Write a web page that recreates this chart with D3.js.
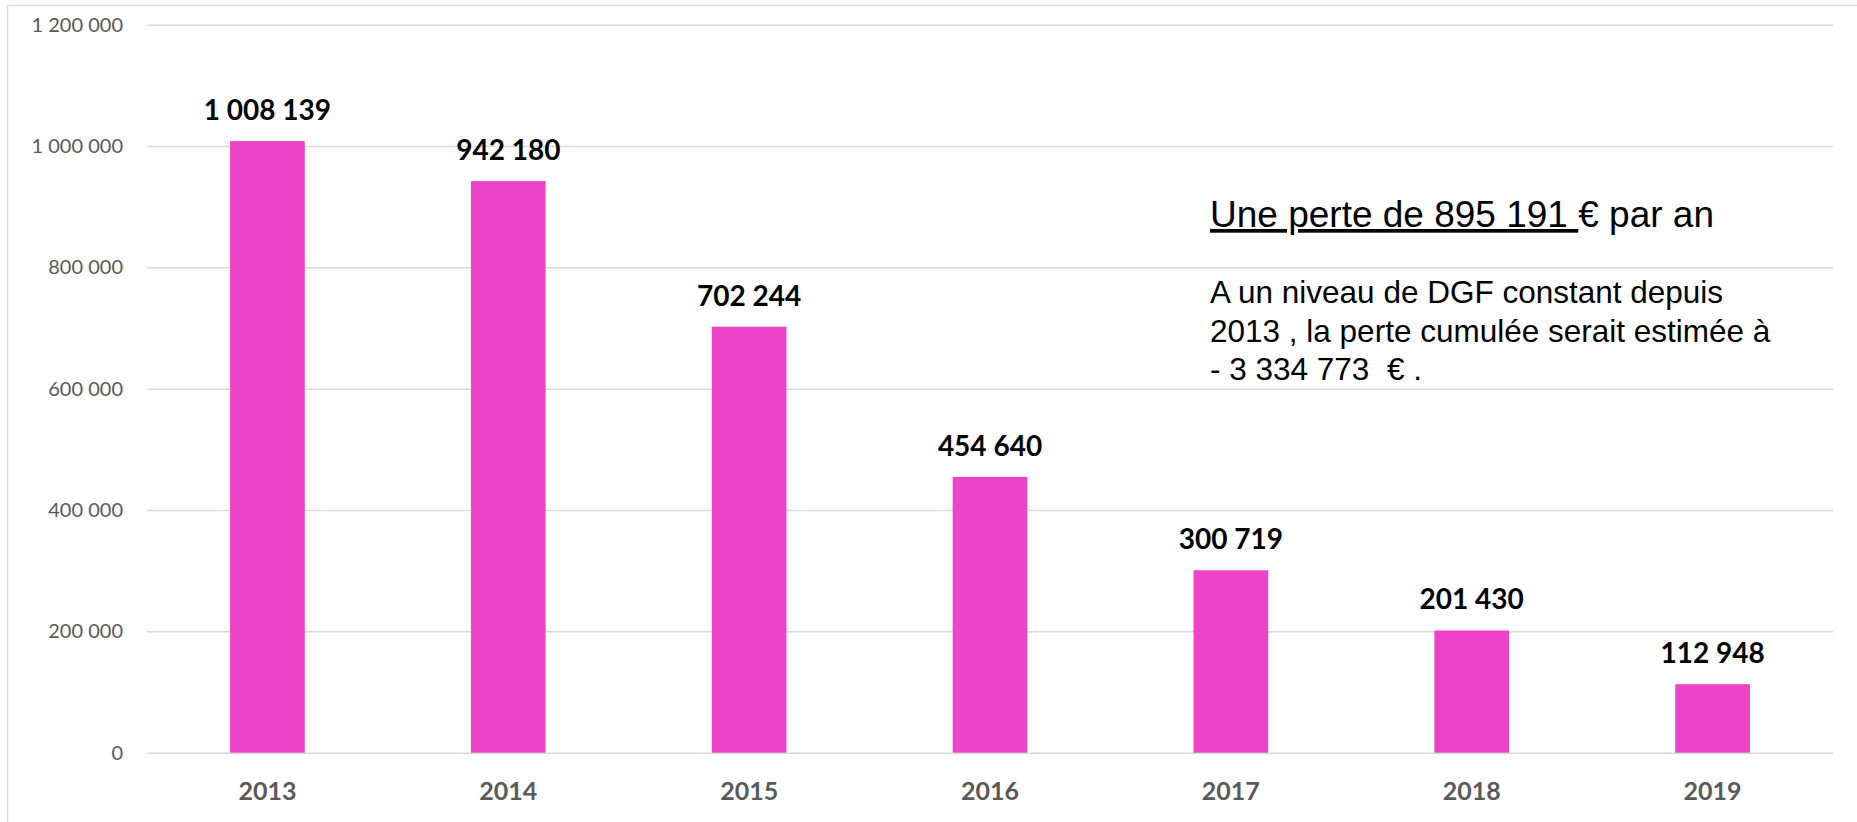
<!DOCTYPE html>
<html>
<head>
<meta charset="utf-8">
<script src="https://cdn.jsdelivr.net/npm/d3@7"></script>
<style>
    body { margin: 0; background: #fff; }
    svg { display: block; }
    .tick line { stroke: #d9d9d9; stroke-width: 1.5; }
    .axis .domain { display: none; }
</style>
</head>
<body>
<svg width="1857" height="822"></svg>
<script>
// DATA
var years = ["2013", "2014", "2015", "2016", "2017", "2018", "2019"];
var dgf = [1008139, 942180, 702244, 454640, 300719, 201430, 112948];
var yTicks = [0, 200000, 400000, 600000, 800000, 1000000, 1200000];
var titleUnderlined = "Une perte de 895 191 ";
var titleRest = "€ par an";
var noteLines = [
    "A un niveau de DGF constant depuis",
    "2013 , la perte cumulée serait estimée à",
    "- 3 334 773  € ."
];

var svg = d3.select("svg");
var width = +svg.attr("width");
var height = +svg.attr("height");

var plotLeft = 147, plotRight = 1833, plotTop = 24.7, plotBottom = 752.7;

var fr = d3.formatLocale({decimal: ",", thousands: " ", grouping: [3], currency: ["", " €"]});
var numberFormat = fr.format(",d");

// frame
svg.append("rect")
    .attr("x", 7.5)
    .attr("y", 5.5)
    .attr("width", width + 10)
    .attr("height", height + 10)
    .attr("fill", "none")
    .attr("stroke", "#d9d9d9")
    .attr("stroke-width", 1.5);

var x = d3.scaleBand()
    .domain(years)
    .range([plotLeft, plotRight])
    .paddingInner(0.69)
    .paddingOuter(0.345);

var y = d3.scaleLinear()
    .domain([0, 1200000])
    .range([plotBottom, plotTop]);

// Y AXIS + GRID
var yAxis = d3.axisLeft(y)
    .tickValues(yTicks)
    .tickFormat(numberFormat)
    .tickSize(-(plotRight - plotLeft))
    .tickPadding(24);

svg.append("g")
    .attr("class", "axis")
    .attr("transform", "translate(" + plotLeft + ",0)")
    .call(yAxis)
    .selectAll("text")
    .attr("dy", "0.32em")
    .style("font-family", "Lato, 'Open Sans', sans-serif")
    .style("font-size", "20px")
    .style("fill", "#595959");

// X AXIS
var xAxis = d3.axisBottom(x)
    .tickSize(0)
    .tickPadding(0);

svg.append("g")
    .attr("class", "axis")
    .attr("transform", "translate(0," + plotBottom + ")")
    .call(xAxis)
    .selectAll("text")
    .attr("y", 47)
    .attr("dy", 0)
    .style("font-family", "Lato, 'Open Sans', sans-serif")
    .style("font-weight", "bold")
    .style("font-size", "25px")
    .style("fill", "#595959");

// BARS
svg.selectAll(".bar")
    .data(years)
    .enter()
    .append("rect")
    .attr("class", "bar")
    .attr("x", function(d) { return x(d); })
    .attr("width", x.bandwidth())
    .attr("y", function(d, i) { return y(dgf[i]); })
    .attr("height", function(d, i) { return plotBottom - y(dgf[i]); })
    .attr("fill", "#eb44c9");

// VALUE LABELS
svg.selectAll(".value")
    .data(years)
    .enter()
    .append("text")
    .attr("class", "value")
    .attr("text-anchor", "middle")
    .attr("x", function(d) { return x(d) + x.bandwidth() / 2; })
    .attr("y", function(d, i) { return y(dgf[i]) - 21; })
    .style("font-family", "Lato, 'Open Sans', sans-serif")
    .style("font-weight", "bold")
    .style("font-size", "28px")
    .style("fill", "#000")
    .text(function(d, i) { return numberFormat(dgf[i]); });

// ANNOTATION
var title = svg.append("text")
    .attr("x", 1210)
    .attr("y", 227)
    .style("font-family", "'Liberation Sans', Arial, sans-serif")
    .style("font-size", "37px")
    .style("white-space", "pre")
    .style("fill", "#000");
title.append("tspan")
    .style("text-decoration", "underline")
    .text(titleUnderlined);
title.append("tspan")
    .text(titleRest);

svg.append("g")
    .selectAll("text")
    .data(noteLines)
    .enter()
    .append("text")
    .attr("x", 1210)
    .attr("y", function(d, i) { return 303.3 + i * 38.3; })
    .style("font-family", "'Liberation Sans', Arial, sans-serif")
    .style("font-size", "31.5px")
    .style("white-space", "pre")
    .style("fill", "#000")
    .text(function(d) { return d; });
</script>
</body>
</html>
